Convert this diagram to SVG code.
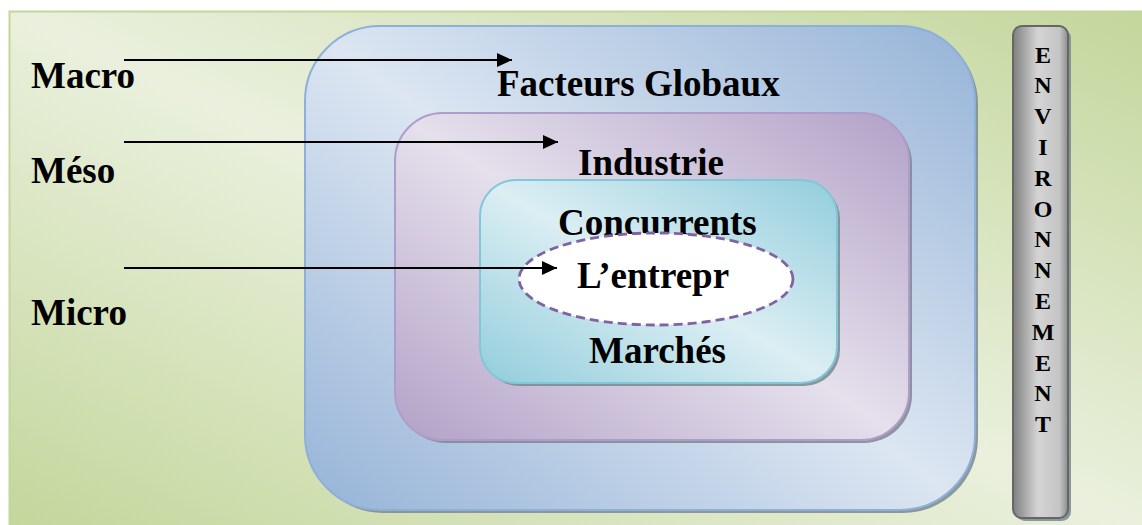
<svg xmlns="http://www.w3.org/2000/svg" width="1142" height="525" viewBox="0 0 1142 525">
  <defs>
    <!-- diagonal fills: dark at top-right and bottom-left corners, light across the middle -->
    <linearGradient id="gGreen" x1="1" y1="0" x2="0" y2="1">
      <stop offset="0" stop-color="#c3d69b"/>
      <stop offset="0.5" stop-color="#eaf0dd"/>
      <stop offset="1" stop-color="#c3d69b"/>
    </linearGradient>
    <linearGradient id="gBlue" x1="1" y1="0" x2="0" y2="1">
      <stop offset="0" stop-color="#95b3d7"/>
      <stop offset="0.5" stop-color="#dce6f2"/>
      <stop offset="1" stop-color="#95b3d7"/>
    </linearGradient>
    <linearGradient id="gPurple" x1="1" y1="0" x2="0" y2="1">
      <stop offset="0" stop-color="#b2a1c7"/>
      <stop offset="0.5" stop-color="#e5e0ec"/>
      <stop offset="1" stop-color="#b2a1c7"/>
    </linearGradient>
    <linearGradient id="gCyan" x1="1" y1="0" x2="0" y2="1">
      <stop offset="0" stop-color="#92cddc"/>
      <stop offset="0.5" stop-color="#dbeef3"/>
      <stop offset="1" stop-color="#92cddc"/>
    </linearGradient>
    <linearGradient id="gGray" x1="0" y1="0" x2="1" y2="0">
      <stop offset="0" stop-color="#7f7f7f"/>
      <stop offset="0.45" stop-color="#d4d4d4"/>
      <stop offset="0.85" stop-color="#c4c4c4"/>
      <stop offset="1" stop-color="#8c8c8c"/>
    </linearGradient>
    <marker id="arrow" markerUnits="userSpaceOnUse" markerWidth="16" markerHeight="14" refX="15" refY="7" orient="auto">
      <path d="M0,0 L15,7 L0,14 z" fill="#000"/>
    </marker>
  </defs>
  <style>
    .lbl { font-family: "Liberation Serif", "Times New Roman", serif; font-weight: bold; font-size: 37px; fill: #000; }
    .vlbl { font-family: "Liberation Serif", "Times New Roman", serif; font-weight: bold; font-size: 24px; fill: #000; text-anchor: middle; }
    .shadow { fill: #7d8891; opacity: 0.85; }
    .conn { stroke: #000; stroke-width: 2; fill: none; marker-end: url(#arrow); }
  </style>

  <!-- background panel -->
  <g id="background">
    <rect x="9.5" y="11.5" width="1140" height="520" fill="url(#gGreen)" stroke="#c3d69b" stroke-width="2"/>
  </g>

  <!-- level labels -->
  <g id="labels">
    <text class="lbl" x="31" y="88">Macro</text>
    <text class="lbl" x="31" y="183">Méso</text>
    <text class="lbl" x="31" y="325">Micro</text>
  </g>

  <!-- outer layer: global factors -->
  <g id="facteurs-globaux">
    <rect class="shadow" x="308" y="29" width="670" height="484" rx="75" ry="75"/>
    <rect x="305" y="26" width="670" height="484" rx="75" ry="75" fill="url(#gBlue)" stroke="#8eafd8" stroke-width="2"/>
    <text class="lbl" x="497" y="96">Facteurs Globaux</text>
  </g>

  <!-- middle layer: industry -->
  <g id="industrie">
    <rect class="shadow" x="398" y="116" width="514" height="327" rx="48" ry="48"/>
    <rect x="395" y="113" width="514" height="327" rx="48" ry="48" fill="url(#gPurple)" stroke="#b09ccb" stroke-width="2"/>
    <text class="lbl" x="578" y="175">Industrie</text>
  </g>

  <!-- inner layer: competitors and markets -->
  <g id="concurrents">
    <rect class="shadow" x="483" y="183" width="357" height="203" rx="36" ry="36"/>
    <rect x="480" y="180" width="357" height="203" rx="36" ry="36" fill="url(#gCyan)" stroke="#80c8d8" stroke-width="2"/>
    <text class="lbl" x="558" y="235">Concurrents</text>
    <text class="lbl" x="589" y="363">Marchés</text>
  </g>

  <!-- core: the firm -->
  <g id="entreprise">
    <ellipse cx="656" cy="279" rx="137" ry="46" fill="#fff" stroke="#8064a2" stroke-width="2.8" stroke-dasharray="9 5"/>
    <text class="lbl" x="577" y="288">L’entrepr</text>
  </g>

  <!-- environment bar -->
  <g id="environnement">
    <rect class="shadow" x="1016" y="29" width="55" height="492" rx="9" ry="9"/>
    <rect x="1013" y="26" width="55" height="492" rx="9" ry="9" fill="url(#gGray)" stroke="#666" stroke-width="2"/>
    <text class="vlbl" x="1043" y="62.5">E</text>
    <text class="vlbl" x="1043" y="93.3">N</text>
    <text class="vlbl" x="1043" y="124.1">V</text>
    <text class="vlbl" x="1043" y="154.9">I</text>
    <text class="vlbl" x="1043" y="185.7">R</text>
    <text class="vlbl" x="1043" y="216.5">O</text>
    <text class="vlbl" x="1043" y="247.3">N</text>
    <text class="vlbl" x="1043" y="278.1">N</text>
    <text class="vlbl" x="1043" y="308.9">E</text>
    <text class="vlbl" x="1043" y="339.7">M</text>
    <text class="vlbl" x="1043" y="370.5">E</text>
    <text class="vlbl" x="1043" y="401.3">N</text>
    <text class="vlbl" x="1043" y="432.1">T</text>
  </g>

  <!-- level arrows -->
  <g id="connectors">
    <line class="conn" x1="124" y1="60" x2="512" y2="60"/>
    <line class="conn" x1="124" y1="142" x2="558" y2="142"/>
    <line class="conn" x1="124" y1="268" x2="557" y2="268"/>
  </g>
</svg>
